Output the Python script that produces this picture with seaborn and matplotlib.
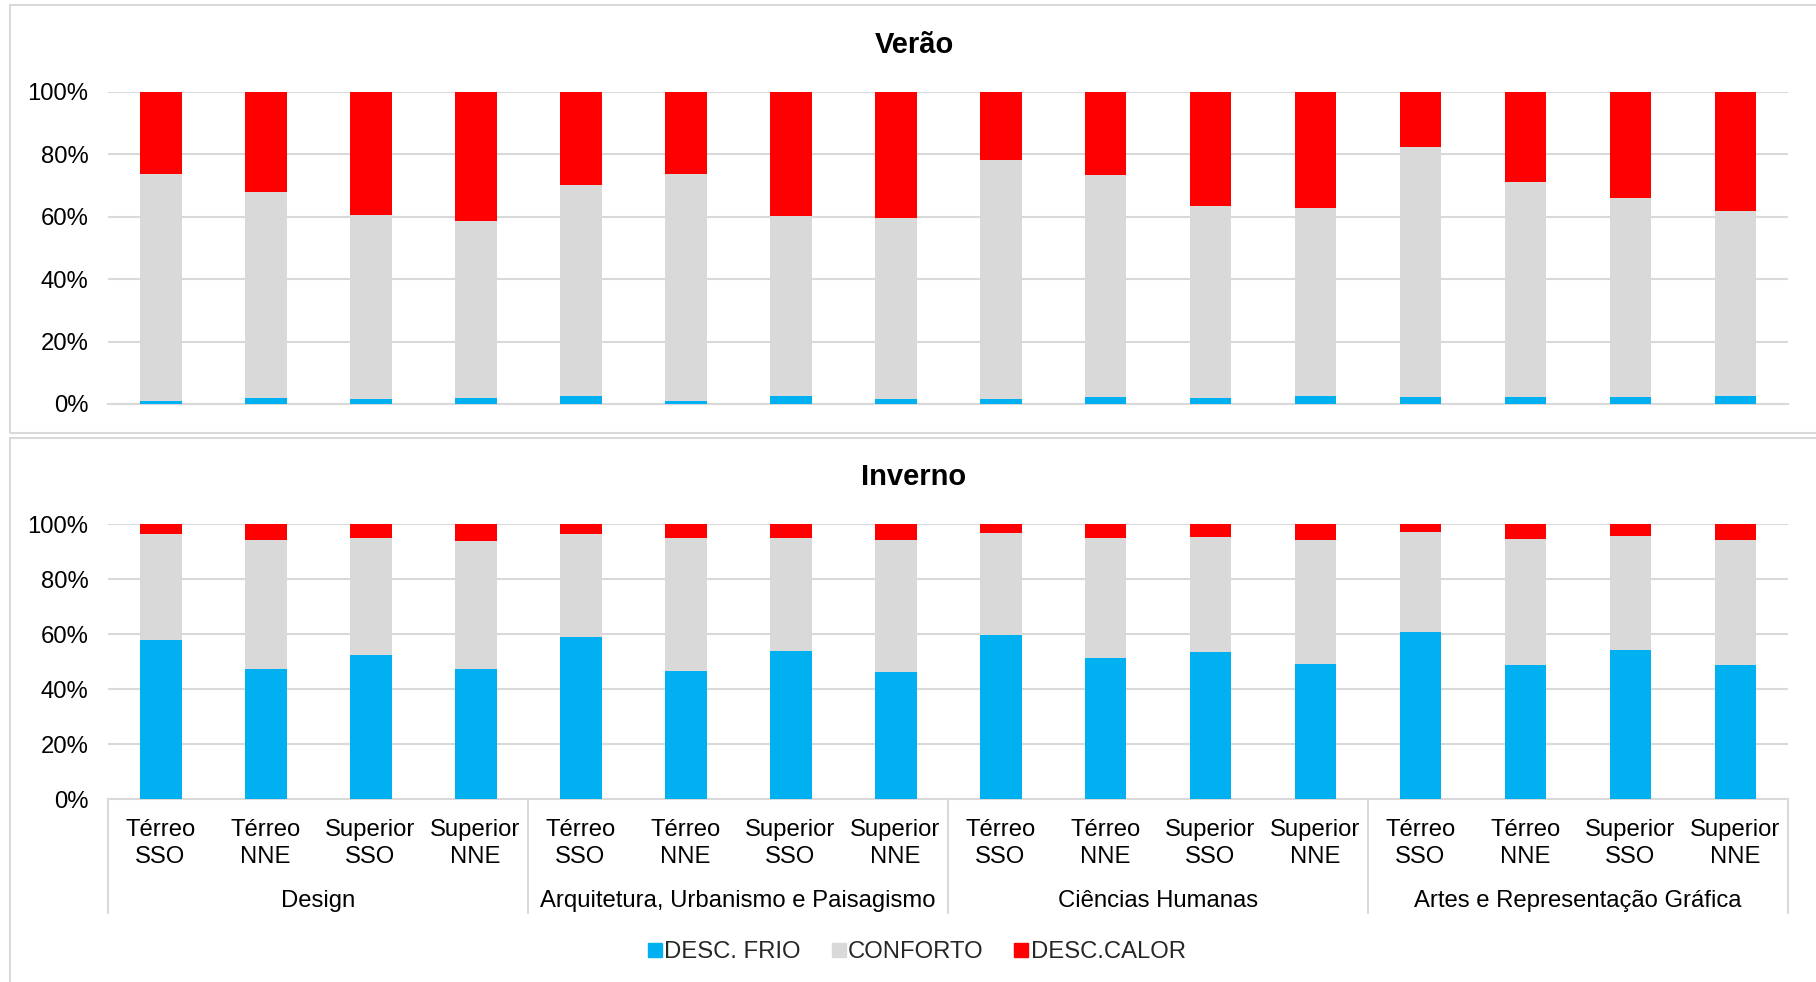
import numpy as np
import pandas as pd
import matplotlib
matplotlib.use("Agg")
import matplotlib.pyplot as plt
import seaborn as sns
from matplotlib.lines import Line2D
from matplotlib.patches import Rectangle
from matplotlib.ticker import PercentFormatter
from matplotlib.transforms import blended_transform_factory

# ---- data -------------------------------------------------------------
groups = ["Design", "Arquitetura, Urbanismo e Paisagismo",
          "Ciências Humanas", "Artes e Representação Gráfica"]
positions = ["Térreo\nSSO", "Térreo\nNNE", "Superior\nSSO", "Superior\nNNE"]
series_names = ["DESC. FRIO", "CONFORTO", "DESC.CALOR"]

verao_frio = [1.1, 2.0, 1.6, 2.0, 2.5, 0.9, 2.7, 1.6,
              1.5, 2.3, 1.9, 2.7, 2.1, 2.1, 2.1, 2.6]
verao_conforto = [72.7, 65.8, 58.8, 56.7, 67.5, 72.9, 57.6, 58.0,
                  76.5, 70.9, 61.4, 60.1, 80.2, 68.9, 63.8, 59.2]
verao_calor = [26.2, 32.2, 39.6, 41.3, 30.0, 26.2, 39.7, 40.4,
               22.0, 26.8, 36.7, 37.2, 17.7, 29.0, 34.1, 38.2]

inverno_frio = [58.0, 47.3, 52.4, 47.3, 59.1, 46.6, 53.9, 46.4,
                59.6, 51.3, 53.6, 49.2, 60.8, 48.8, 54.4, 48.8]
inverno_conforto = [38.6, 47.0, 42.5, 46.6, 37.4, 48.3, 41.0, 47.8,
                    37.4, 43.6, 41.8, 45.2, 36.4, 45.9, 41.2, 45.6]
inverno_calor = [3.4, 5.7, 5.1, 6.1, 3.5, 5.1, 5.1, 5.8,
                 3.0, 5.1, 4.6, 5.6, 2.8, 5.3, 4.4, 5.6]

colors = ["#00B0F0", "#D9D9D9", "#FF0000"]
grid_color = "#D9D9D9"

# ---- style ------------------------------------------------------------
sns.set_style("white")
plt.rcParams["font.family"] = ["Liberation Sans", "DejaVu Sans"]
FS = 17.2

W, H = 1816, 982
fig = plt.figure(figsize=(W / 100, H / 100), dpi=100)


def fx(px):
    return px / W


def fy(py):
    return 1 - py / H


keys = [f"{g}|{p}" for g in groups for p in positions]


def stacked_frame(frio, conforto, calor):
    frio = np.asarray(frio, float)
    conforto = np.asarray(conforto, float)
    calor = np.asarray(calor, float)
    total = frio + conforto + calor
    # 100% stacked: each bar normalised to its own total
    return pd.DataFrame({
        "key": keys,
        "frio": frio / total,
        "conforto": (frio + conforto) / total,
        "calor": (frio + conforto + calor) / total,
    })


def draw_panel(ax, df, title, title_y):
    for col, c in zip(["calor", "conforto", "frio"], colors[::-1]):
        sns.barplot(data=df, x="key", y=col, order=keys, color=c,
                    saturation=1, width=0.4, errorbar=None,
                    linewidth=0, ax=ax, zorder=3)
    ax.set_xlim(-0.5, len(keys) - 0.5)
    ax.set_ylim(0, 1)
    ax.set_yticks(np.arange(0, 1.01, 0.2))
    ax.yaxis.set_major_formatter(PercentFormatter(1.0, decimals=0))
    ax.grid(axis="y", color=grid_color, linewidth=1.5)
    ax.grid(axis="x", visible=False)
    ax.set_axisbelow(True)
    for s in ["top", "right", "left"]:
        ax.spines[s].set_visible(False)
    ax.spines["bottom"].set_color(grid_color)
    ax.spines["bottom"].set_linewidth(1.5)
    ax.tick_params(axis="both", length=0)
    ax.tick_params(axis="y", labelsize=FS, pad=14.0, labelcolor="black")
    ax.set_xticks(range(len(keys)))
    ax.set_xticklabels([])
    ax.set_xlabel("")
    ax.set_ylabel("")
    fig.text(fx(914), fy(title_y), title, ha="center", va="baseline",
             fontsize=21, fontweight="bold", color="black")


ax_left, ax_right = 108, 1788

# panel frames
for top, bottom in [(5.3, 433.3), (437.7, 990)]:
    fig.patches.append(Rectangle((fx(9.5), fy(bottom)), fx(1830 - 9.5),
                                 (bottom - top) / H, transform=fig.transFigure,
                                 fill=False, edgecolor=grid_color,
                                 linewidth=1.5, zorder=0))

ax1 = fig.add_axes([fx(ax_left), fy(404), fx(ax_right - ax_left), (404 - 91.7) / H])
draw_panel(ax1, stacked_frame(verao_frio, verao_conforto, verao_calor),
           "Verão", 53)

ax2 = fig.add_axes([fx(ax_left), fy(799), fx(ax_right - ax_left), (799 - 524.3) / H])
draw_panel(ax2, stacked_frame(inverno_frio, inverno_conforto, inverno_calor),
           "Inverno", 485)

# two-level category axis under the lower panel
tr = blended_transform_factory(ax2.transData, fig.transFigure)
for i, key in enumerate(keys):
    g, p = key.split("|")
    l1, l2 = p.split("\n")
    ax2.text(i, fy(836), l1, transform=tr, ha="center", va="baseline",
             fontsize=FS, color="black", clip_on=False)
    ax2.text(i, fy(863), l2, transform=tr, ha="center", va="baseline",
             fontsize=FS, color="black", clip_on=False)
for gi, g in enumerate(groups):
    ax2.text(gi * 4 + 1.5, fy(907), g, transform=tr, ha="center",
             va="baseline", fontsize=FS, color="black", clip_on=False)
for b in np.arange(-0.5, len(keys), 4):
    ax2.add_line(Line2D([b, b], [fy(799), fy(913)], transform=tr,
                        color=grid_color, linewidth=1.5, clip_on=False))

# legend
handles = [Line2D([], [], marker="s", linestyle="", markersize=9.5,
                  markerfacecolor=c, markeredgecolor=c) for c in colors]
fig.legend(handles, series_names, loc="center", ncol=3,
           bbox_to_anchor=(fx(917), fy(952)), frameon=False,
           fontsize=FS, handlelength=0.55, handletextpad=0.12,
           columnspacing=1.3, borderaxespad=0)

fig.savefig("out.png", dpi=100)
